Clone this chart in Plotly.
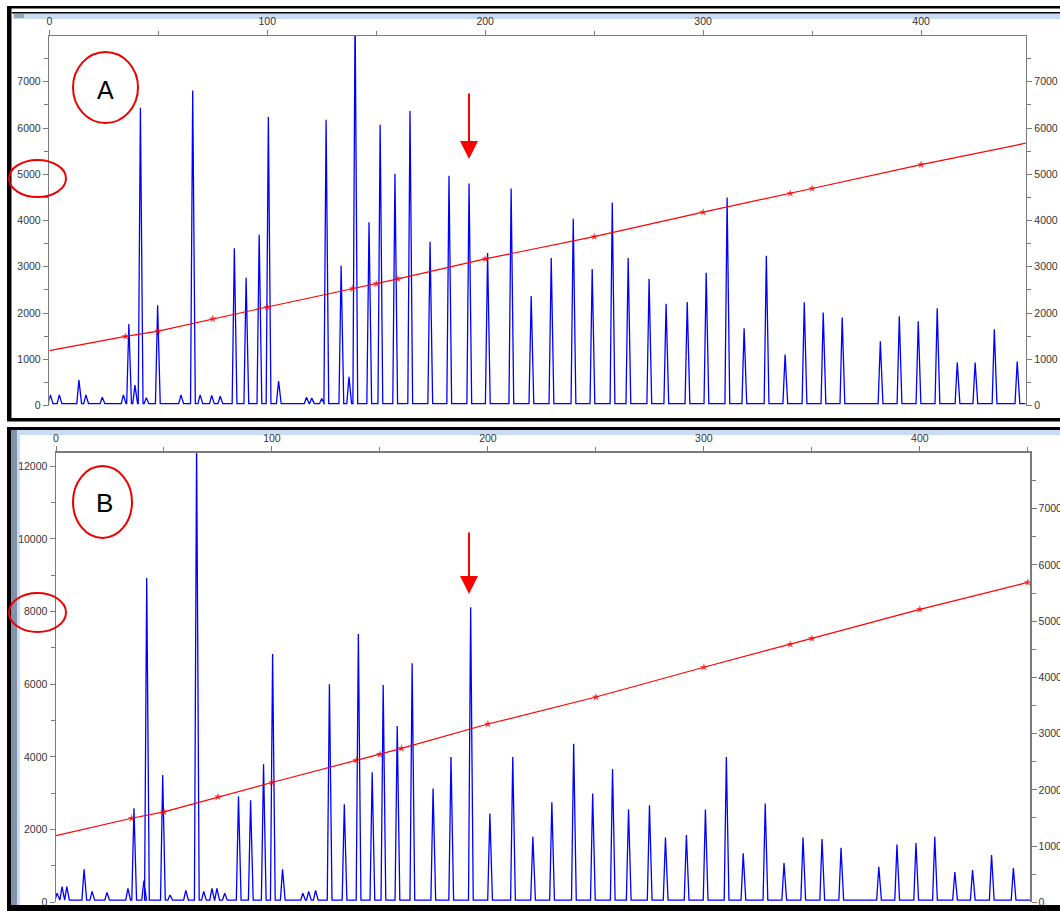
import plotly.graph_objects as go

W, H = 1060, 911

# ---------------- data ----------------
# Panel A electropherogram peaks (size position, height in RFU)
a_peak_x = [0.5, 4.6, 13.6, 16.8, 24.3, 34.0, 36.5, 39.3, 41.8, 44.5, 49.7, 60.4, 65.8, 69.2,
            74.5, 78.4, 84.9, 90.3, 96.3, 100.5, 105.2, 118.0, 120.4, 125.0, 127.0, 133.9,
            137.5, 140.3, 146.7, 151.8, 158.6, 165.5, 174.7, 183.4, 192.6, 201.1, 211.9,
            221.1, 230.3, 240.4, 249.1, 258.3, 265.6, 275.2, 283.0, 292.7, 301.4, 311.0,
            318.8, 329.0, 337.6, 346.4, 355.1, 363.8, 381.3, 390.0, 398.7, 407.4, 416.6,
            424.8, 433.6, 444.1]
a_peak_h = [230, 230, 550, 230, 180, 230, 1760, 440, 6440, 170, 2170, 230, 6810, 230,
            220, 200, 3400, 2760, 3690, 6240, 530, 180, 160, 150, 6180, 3020,
            620, 8600, 3960, 6070, 5010, 6370, 3540, 4970, 4800, 3300, 4690,
            2370, 3190, 4040, 2950, 4390, 3190, 2740, 2200, 2240, 2870, 4500,
            1670, 3240, 1100, 2230, 2010, 1900, 1390, 1930, 1820, 2100, 930,
            930, 1650, 950]

# Panel B electropherogram peaks
b_peak_x = [0.5, 2.8, 5.0, 13.0, 16.7, 23.6, 33.3, 36.1, 40.7, 42.0, 49.4, 52.8, 60.1, 65.1,
            68.4, 72.2, 74.5, 78.1, 84.5, 90.1, 96.1, 100.3, 104.9, 114.3, 117.0, 120.2,
            126.6, 133.5, 140.0, 146.4, 151.5, 158.0, 164.9, 174.6, 182.9, 192.0, 200.9,
            211.5, 220.8, 229.6, 239.7, 248.5, 257.7, 265.1, 274.8, 282.2, 291.9, 300.7,
            310.4, 318.2, 328.4, 337.1, 345.9, 354.7, 363.5, 381.0, 389.4, 398.2, 406.9,
            416.2, 424.4, 433.2, 443.3]
b_peak_h = [250, 430, 430, 910, 300, 270, 380, 2590, 600, 8920, 3500, 200, 330, 12600,
            300, 380, 380, 250, 2920, 2810, 3800, 6830, 910, 250, 300, 330,
            6000, 2700, 7380, 3580, 5980, 4850, 6580, 3130, 4000, 8120, 2440,
            4000, 1800, 2750, 4360, 2990, 3670, 2560, 2670, 1780, 1850, 2550,
            4000, 1350, 2720, 1080, 1780, 1740, 1500, 980, 1590, 1630, 1800,
            830, 890, 1300, 940]

# Sizing curve (red) – size standard fragments vs. data point
std_size = [0, 35, 50, 75, 100, 139, 150, 160, 200, 250, 300, 340, 350, 400, 450]
std_scan = [1185, 1495, 1608, 1875, 2130, 2525, 2630, 2738, 3170, 3650, 4180, 4585, 4693, 5210, 5690]
std_marked = [False] + [True] * 14

x_ticks = [0, 100, 200, 300, 400]


# ---------------- helpers ----------------
def px(x):
    return x / W


def py(y):
    return 1 - y / H


def trace_points(peak_x, peak_h, base, xmax):
    xs, ys = [0], [base]
    for x, h in sorted(zip(peak_x, peak_h)):
        xs += [x - 1.0, x, x + 1.2]
        ys += [base, h, base]
    xs.append(xmax)
    ys.append(base)
    return xs, ys


GRAY = "#7a7a7a"
TICKFONT = dict(family="Liberation Sans, Arial, sans-serif", size=10.5, color="#333333")

fig = go.Figure()

ax_, ay_ = trace_points(a_peak_x, a_peak_h, 40, 448)
fig.add_trace(go.Scatter(x=ax_, y=ay_, mode="lines", line=dict(color="#0000ff", width=1.3),
                         xaxis="x", yaxis="y", showlegend=False, hoverinfo="skip"))
fig.add_trace(go.Scatter(x=std_size, y=std_scan, mode="lines+markers",
                         line=dict(color="#ff0000", width=1.2),
                         marker=dict(symbol="star", size=[6 if m else 0 for m in std_marked],
                                     color="#ff0000", line=dict(width=0)),
                         xaxis="x", yaxis="y2", showlegend=False, hoverinfo="skip"))

bx_, by_ = trace_points(b_peak_x, b_peak_h, 60, 451)
fig.add_trace(go.Scatter(x=bx_, y=by_, mode="lines", line=dict(color="#0000ff", width=1.3),
                         xaxis="x2", yaxis="y3", showlegend=False, hoverinfo="skip"))
fig.add_trace(go.Scatter(x=std_size, y=std_scan, mode="lines+markers",
                         line=dict(color="#ff0000", width=1.2),
                         marker=dict(symbol="star", size=[6 if m else 0 for m in std_marked],
                                     color="#ff0000", line=dict(width=0)),
                         xaxis="x2", yaxis="y4", showlegend=False, hoverinfo="skip",
                         cliponaxis=False))


def xax(domain, rng, anchor):
    return dict(domain=domain, range=rng, anchor=anchor, side="top", showline=True,
                linecolor=GRAY, linewidth=1.5, ticks="outside", ticklen=5, tickcolor=GRAY,
                tickvals=x_ticks, tickfont=TICKFONT, showgrid=False, zeroline=False,
                automargin=False,
                minor=dict(dtick=50, tick0=0, ticks="outside", ticklen=4, tickcolor=GRAY, showgrid=False),
                fixedrange=True)


def yax(domain, rng, dtick, mdtick, side, anchor, overlaying=None):
    d = dict(range=rng, anchor=anchor, side=side, showline=True, linecolor=GRAY, linewidth=1.5,
             ticks="outside", ticklen=5, tickcolor=GRAY, dtick=dtick, tick0=0,
             tickformat="d", tickfont=TICKFONT, showgrid=False, zeroline=False,
             automargin=False,
             minor=dict(dtick=mdtick, tick0=0, ticks="outside", ticklen=4, tickcolor=GRAY, showgrid=False),
             fixedrange=True)
    if overlaying:
        d["overlaying"] = overlaying
    else:
        d["domain"] = domain
    return d


A_dom_x = [px(49.3), px(1025.7)]
A_dom_y = [py(405.5), py(36)]
B_dom_x = [px(56), px(1030)]
B_dom_y = [py(902.3), py(452.7)]

fig.update_layout(
    template="none",
    width=W, height=H, margin=dict(l=0, r=0, t=0, b=0, pad=0, autoexpand=False),
    paper_bgcolor="white", plot_bgcolor="white", showlegend=False,
    xaxis=xax(A_dom_x, [0, 448], "y"),
    yaxis=yax(A_dom_y, [0, 7990], 1000, 500, "left", "x"),
    yaxis2=yax(None, [0, 7990], 1000, 500, "right", "x", overlaying="y"),
    xaxis2=xax(B_dom_x, [0, 451], "y3"),
    yaxis3=yax(B_dom_y, [0, 12370], 2000, 1000, "left", "x2"),
    yaxis4=yax(None, [0, 7995], 1000, 500, "right", "x2", overlaying="y3"),
)

shapes = []


def rect(x0, y0, x1, y1, fill, layer="below"):
    shapes.append(dict(type="rect", xref="paper", yref="paper", x0=px(x0), x1=px(x1),
                       y0=py(y1), y1=py(y0), fillcolor=fill, line=dict(width=0), layer=layer))


# window frames
rect(7, 6, 1060, 8.5, "black", "above")        # top outer line
rect(12, 12, 1060, 13.5, "black", "above")     # title bar top
rect(13, 13.5, 1060, 19, "#c9dcf3")            # light blue title band A
rect(14, 14, 24, 18, "#9aa6b4")               # tiny icon
rect(7, 6, 11.5, 421, "black", "above")        # left border A
rect(7, 418, 1060, 421.5, "black", "above")    # bottom A
rect(7, 427, 1060, 430, "black", "above")      # top B
rect(20, 430, 1060, 435, "#c9dcf3")            # band B
rect(7, 427, 11, 911, "black", "above")        # left border B
rect(11, 430, 17, 911, "#8193aa")              # gray-blue strip
rect(17, 430, 20, 911, "#c9dcf3")
rect(7, 905, 1060, 911, "black", "above")      # bottom B


def ellipse(x0, y0, x1, y1):
    shapes.append(dict(type="circle", xref="paper", yref="paper", x0=px(x0), x1=px(x1),
                       y0=py(y1), y1=py(y0), line=dict(color="#ee0000", width=2), layer="above"))


ellipse(73, 52, 138, 123)
ellipse(9, 160, 66, 197)
ellipse(73, 466, 132, 538)
ellipse(9, 593, 66, 632)

fig.update_layout(shapes=shapes)

annotations = [
    dict(text="A", x=px(105.5), y=py(90), xref="paper", yref="paper", showarrow=False,
         xanchor="center", yanchor="middle",
         font=dict(family="Liberation Sans, Arial, sans-serif", size=25, color="black")),
    dict(text="B", x=px(104.5), y=py(503), xref="paper", yref="paper", showarrow=False,
         xanchor="center", yanchor="middle",
         font=dict(family="Liberation Sans, Arial, sans-serif", size=26, color="black")),
    dict(text="", x=px(469), y=py(159), xref="paper", yref="paper", showarrow=True,
         ax=0, ay=-67, arrowhead=2, arrowsize=1.8, arrowwidth=2, arrowcolor="#ff0000", standoff=0),
    dict(text="", x=px(469), y=py(594), xref="paper", yref="paper", showarrow=True,
         ax=0, ay=-63, arrowhead=2, arrowsize=1.8, arrowwidth=2, arrowcolor="#ff0000", standoff=0),
]
fig.update_layout(annotations=annotations)

fig.write_html("out.html", config={"displayModeBar": False, "staticPlot": True},
               post_script="document.body.style.margin='0';document.body.style.overflow='hidden';")
